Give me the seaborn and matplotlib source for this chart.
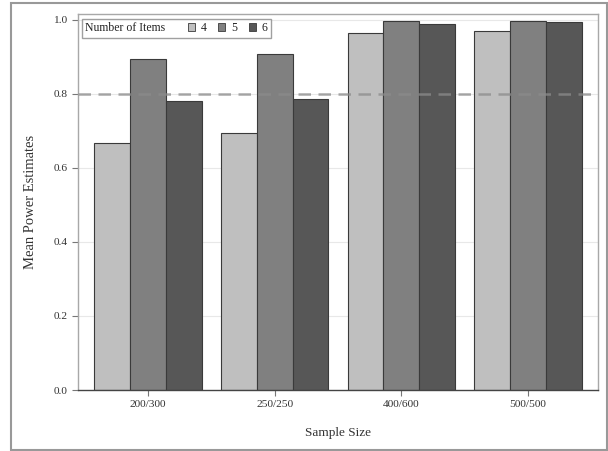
import matplotlib
matplotlib.use("Agg")
import matplotlib.pyplot as plt
from matplotlib.patches import Patch, Rectangle
from matplotlib.offsetbox import HPacker
import seaborn as sns
import pandas as pd

sample_sizes = ["200/300", "250/250", "400/600", "500/500"]
items = ["4", "5", "6"]
power_4 = [0.668, 0.695, 0.965, 0.970]
power_5 = [0.895, 0.908, 0.997, 0.998]
power_6 = [0.781, 0.786, 0.989, 0.994]
y_ticks = [0.0, 0.2, 0.4, 0.6, 0.8, 1.0]
target_power = 0.8

colors = ["#bfbfbf", "#808080", "#575757"]

df = pd.DataFrame({
    "Sample Size": sample_sizes * 3,
    "Items": [items[0]] * 4 + [items[1]] * 4 + [items[2]] * 4,
    "Power": power_4 + power_5 + power_6,
})

sns.set_theme(style="white")
plt.rcParams["font.family"] = ["Liberation Serif", "DejaVu Serif"]

fig = plt.figure(figsize=(6.08, 4.51), dpi=100)
ax = fig.add_axes([78 / 608, 61 / 451, 520 / 608, 376 / 451])

# faint horizontal grid behind the bars
for t in y_ticks[1:]:
    ax.axhline(t, color="#e8e8e8", lw=0.8, zorder=0)

sns.barplot(data=df, x="Sample Size", y="Power", hue="Items",
            order=sample_sizes, hue_order=items, palette=colors,
            width=0.85, edgecolor="#3a3a3a", linewidth=0.8,
            errorbar=None, ax=ax, legend=False, zorder=2)

ax.axhline(target_power, color="#8c8c8c", alpha=0.75, lw=1.8,
           ls=(0, (5, 3)), zorder=3)

ax.set_xlim(-0.552, 3.552)
ax.set_ylim(0, 1.016)
ax.set_yticks(y_ticks)
ax.set_yticklabels([f"{t:.1f}" for t in y_ticks])

ax.set_xlabel("Sample Size", fontsize=9.5, color="#333333", labelpad=13)
ax.set_ylabel("Mean Power Estimates", fontsize=10.5, color="#333333",
              labelpad=12)
ax.tick_params(axis="both", labelsize=8.2, colors="#333333", length=4,
               width=0.8, direction="out", left=True, bottom=True)
ax.tick_params(axis="both", color="#777777")

for side in ["top", "right", "left"]:
    ax.spines[side].set_color("#a8a8a8")
    ax.spines[side].set_linewidth(1.0)
ax.spines["bottom"].set_color("#444444")
ax.spines["bottom"].set_linewidth(1.0)

# legend on a single row: caption followed by the three swatches
handles = [Patch(facecolor=c, edgecolor="#3a3a3a", linewidth=0.6)
           for c in colors]
leg_fs = 8.5
leg = ax.legend(handles, items, ncol=3, loc="upper left",
                title="Number of Items", title_fontsize=leg_fs,
                bbox_to_anchor=(4 / 520, 1 - 5 / 376), borderaxespad=0,
                fontsize=leg_fs, handlelength=0.6, handleheight=0.6,
                handletextpad=0.5, columnspacing=1.0, borderpad=0.1,
                frameon=True, fancybox=False)
px = leg_fs * fig.dpi / 72
row = HPacker(pad=0.2 * px, sep=1.35 * px, align="center",
              children=[leg._legend_title_box, leg._legend_handle_box])
row.set_figure(fig)
row.axes = ax
leg._legend_box = row
leg._set_loc(leg._loc)
leg.get_frame().set_edgecolor("#888888")
leg.get_frame().set_linewidth(1.0)
for txt in leg.get_texts():
    txt.set_color("#222222")
leg.get_title().set_color("#222222")

# outer border around the whole graphic
fig.patches.append(Rectangle((11 / 608, 1 / 451), 596 / 608, 447 / 451,
                             transform=fig.transFigure, fill=False,
                             edgecolor="#999999", linewidth=1.5))

fig.savefig("out.png", dpi=100)
